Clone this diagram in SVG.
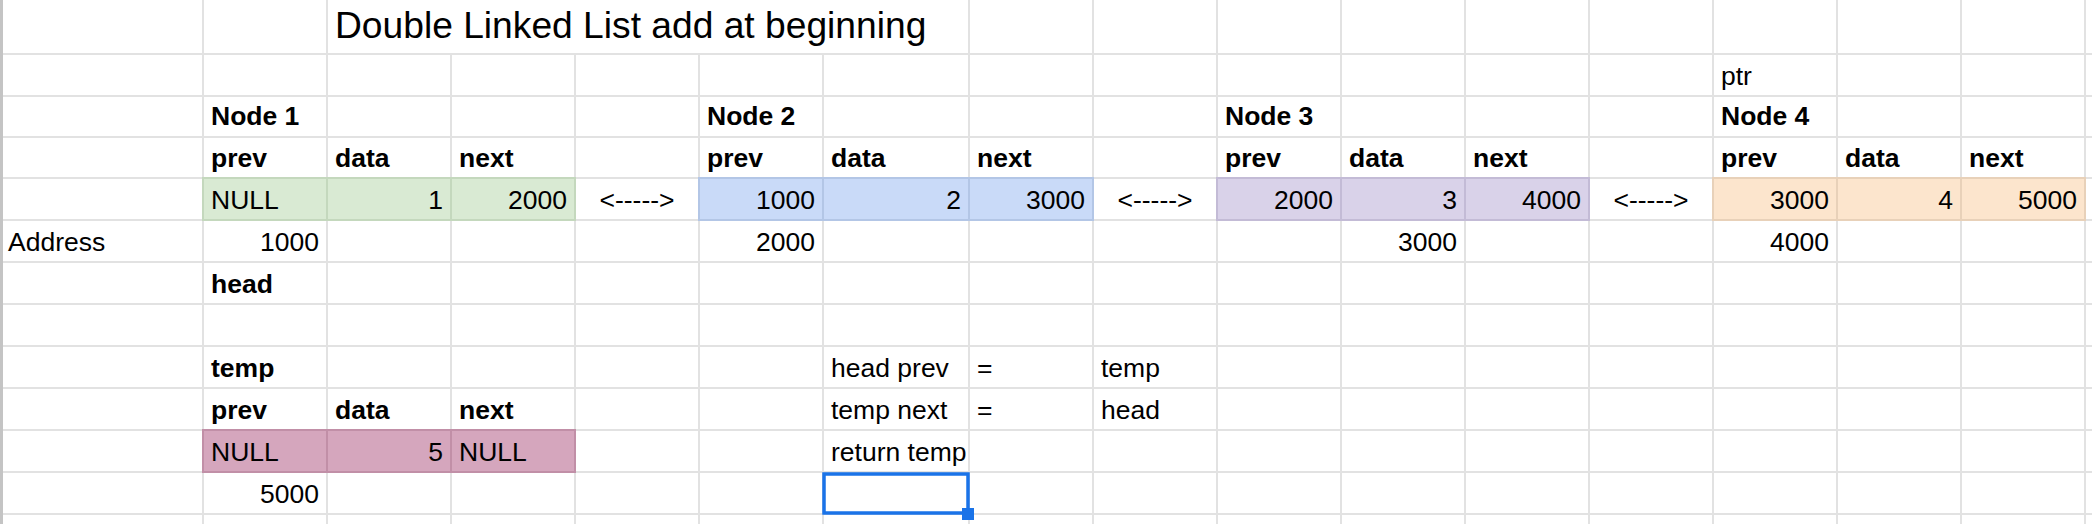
<svg xmlns="http://www.w3.org/2000/svg" width="2092" height="524" viewBox="0 0 2092 524">
<style>
text{font-family:"Liberation Sans",Arial,Helvetica,sans-serif;font-size:26.5px;fill:#000}
.b{font-weight:bold}
.r{text-anchor:end}
.c{text-anchor:middle}
.t{font-size:37.2px}
.g{stroke:#e2e2e2;stroke-width:2;fill:none}
.green{fill:#d9ead3;stroke:#c4d8bd;stroke-width:2}
.blue{fill:#c9daf8;stroke:#b3c6e6;stroke-width:2}
.purple{fill:#d9d2e9;stroke:#c3bbd6;stroke-width:2}
.orange{fill:#fce5cd;stroke:#e8d1b9;stroke-width:2}
.pink{fill:#d5a6bd;stroke:#c18fa7;stroke-width:2}
</style>
<rect x="0" y="0" width="2092" height="524" fill="#ffffff"/>
<g id="grid" class="g">
<path d="M0 54H2092M0 96H2092M0 137H2092M0 178H2092M0 220H2092M0 262H2092M0 304H2092M0 346H2092M0 388H2092M0 430H2092M0 472H2092M0 514H2092"/>
<path d="M203 0V524M327 0V524M451 54V524M575 54V524M699 54V524M823 54V524M969 0V524M1093 0V524M1217 0V524M1341 0V524M1465 0V524M1589 0V524M1713 0V524M1837 0V524M1961 0V524M2085 0V524"/>
<path d="M1.5 0V524" stroke="#c4c4c4" stroke-width="3"/>
</g>
<g id="title"><text class="t" x="335" y="38">Double Linked List add at beginning</text></g>
<g id="node1">
<rect class="green" x="203" y="178" width="124" height="42"/>
<rect class="green" x="327" y="178" width="124" height="42"/>
<rect class="green" x="451" y="178" width="124" height="42"/>
<text class="b" x="211" y="125">Node 1</text>
<text class="b" x="211" y="167">prev</text>
<text class="b" x="335" y="167">data</text>
<text class="b" x="459" y="167">next</text>
<text x="211" y="209">NULL</text>
<text class="r" x="443" y="209">1</text>
<text class="r" x="567" y="209">2000</text>
<text class="r" x="319" y="251">1000</text>
<text class="b" x="211" y="293">head</text>
</g>
<g id="node2">
<rect class="blue" x="699" y="178" width="124" height="42"/>
<rect class="blue" x="823" y="178" width="146" height="42"/>
<rect class="blue" x="969" y="178" width="124" height="42"/>
<text class="b" x="707" y="125">Node 2</text>
<text class="b" x="707" y="167">prev</text>
<text class="b" x="831" y="167">data</text>
<text class="b" x="977" y="167">next</text>
<text class="r" x="815" y="209">1000</text>
<text class="r" x="961" y="209">2</text>
<text class="r" x="1085" y="209">3000</text>
<text class="r" x="815" y="251">2000</text>
</g>
<g id="node3">
<rect class="purple" x="1217" y="178" width="124" height="42"/>
<rect class="purple" x="1341" y="178" width="124" height="42"/>
<rect class="purple" x="1465" y="178" width="124" height="42"/>
<text class="b" x="1225" y="125">Node 3</text>
<text class="b" x="1225" y="167">prev</text>
<text class="b" x="1349" y="167">data</text>
<text class="b" x="1473" y="167">next</text>
<text class="r" x="1333" y="209">2000</text>
<text class="r" x="1457" y="209">3</text>
<text class="r" x="1581" y="209">4000</text>
<text class="r" x="1457" y="251">3000</text>
</g>
<g id="node4">
<rect class="orange" x="1713" y="178" width="124" height="42"/>
<rect class="orange" x="1837" y="178" width="124" height="42"/>
<rect class="orange" x="1961" y="178" width="124" height="42"/>
<text x="1721" y="85">ptr</text>
<text class="b" x="1721" y="125">Node 4</text>
<text class="b" x="1721" y="167">prev</text>
<text class="b" x="1845" y="167">data</text>
<text class="b" x="1969" y="167">next</text>
<text class="r" x="1829" y="209">3000</text>
<text class="r" x="1953" y="209">4</text>
<text class="r" x="2077" y="209">5000</text>
<text class="r" x="1829" y="251">4000</text>
</g>
<g id="address"><text x="8" y="251">Address</text></g>
<g id="temp">
<rect class="pink" x="203" y="430" width="124" height="42"/>
<rect class="pink" x="327" y="430" width="124" height="42"/>
<rect class="pink" x="451" y="430" width="124" height="42"/>
<text class="b" x="211" y="377">temp</text>
<text class="b" x="211" y="419">prev</text>
<text class="b" x="335" y="419">data</text>
<text class="b" x="459" y="419">next</text>
<text x="211" y="461">NULL</text>
<text class="r" x="443" y="461">5</text>
<text x="459" y="461">NULL</text>
<text class="r" x="319" y="503">5000</text>
</g>
<g id="steps">
<text x="831" y="377">head prev</text>
<text x="977" y="377">=</text>
<text x="1101" y="377">temp</text>
<text x="831" y="419">temp next</text>
<text x="977" y="419">=</text>
<text x="1101" y="419">head</text>
<text x="831" y="461">return temp</text>
</g>
<g id="connectors">
<text class="c" x="637" y="209">&lt;-----&gt;</text>
<text class="c" x="1155" y="209">&lt;-----&gt;</text>
<text class="c" x="1651" y="209">&lt;-----&gt;</text>
</g>
<g id="selection">
<rect x="824" y="474" width="144" height="39" fill="none" stroke="#1a73e8" stroke-width="3.5"/>
<rect x="962" y="508" width="12" height="12" fill="#1a73e8"/>
</g>
</svg>
